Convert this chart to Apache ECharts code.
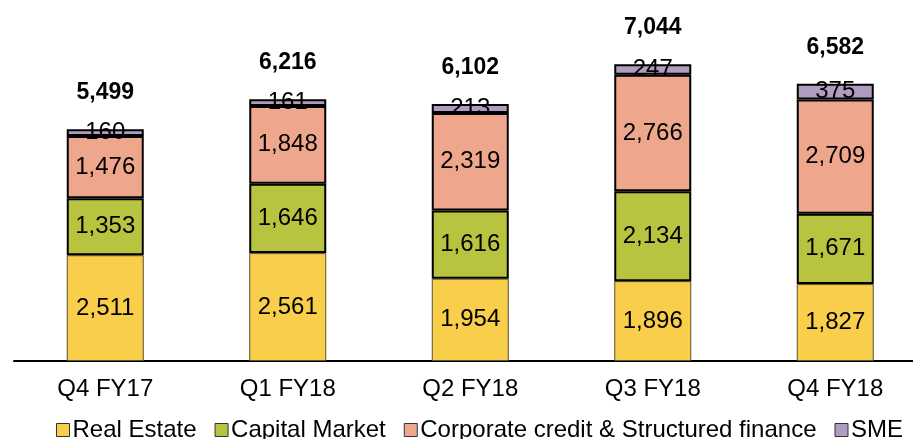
<!DOCTYPE html>
<html>
<head>
<meta charset="utf-8">
<script src="https://cdn.jsdelivr.net/npm/echarts@6/dist/echarts.min.js"></script>
<style>
  html, body { margin: 0; padding: 0; background: #fff; }
  #chart { width: 913px; height: 439px; }
</style>
</head>
<body>
<div id="chart"></div>
<script>
// Portfolio mix by quarter
const quarters = ['Q4 FY17', 'Q1 FY18', 'Q2 FY18', 'Q3 FY18', 'Q4 FY18'];
const realEstate = [2511, 2561, 1954, 1896, 1827];
const capitalMarket = [1353, 1646, 1616, 2134, 1671];
const corporateCredit = [1476, 1848, 2319, 2766, 2709];
const sme = [160, 161, 213, 247, 375];
const totals = [5499, 6216, 6102, 7044, 6582];

const font = "'Liberation Sans', Arial, sans-serif";
const fmt = v => v.toLocaleString('en-US');

const chart = echarts.init(document.getElementById('chart'));

function segment(name, data, color, border, bw) {
  return {
    name,
    type: 'bar',
    stack: 'mix',
    data,
    barWidth: 77,
    itemStyle: { color, borderColor: border, borderWidth: bw },
    label: {
      show: true,
      position: 'inside',
      color: '#000',
      fontFamily: font,
      fontSize: 24,
      formatter: p => fmt(p.value)
    }
  };
}

const option = {
  animation: false,
  backgroundColor: '#fff',
  // plot area runs a little past the right edge, like the source slide
  grid: { left: 14, width: 912.5, top: 24, bottom: 78, outerBoundsMode: 'none', containLabel: false },
  legend: {
    data: ['Real Estate', 'Capital Market', 'Corporate credit & Structured finance', 'SME'],
    left: 51,
    top: 413,
    icon: 'rect',
    itemWidth: 13,
    itemHeight: 13,
    itemGap: 18,
    itemStyle: { borderColor: '#333', borderWidth: 1 },
    textStyle: { color: '#000', fontFamily: font, fontSize: 24, padding: [0, 0, 0, -2] }
  },
  xAxis: {
    type: 'category',
    data: quarters,
    axisLine: { lineStyle: { color: '#000', width: 2 } },
    axisTick: { show: false },
    axisLabel: { color: '#000', fontFamily: font, fontSize: 24, margin: 16 }
  },
  yAxis: {
    type: 'value',
    min: 0,
    max: 8000,
    show: false,
    splitLine: { show: false }
  },
  series: [
    segment('Real Estate', realEstate, '#F8CE4B', '#5a5030', 1),
    segment('Capital Market', capitalMarket, '#B8C43F', '#000', 2),
    segment('Corporate credit & Structured finance', corporateCredit, '#EEA68D', '#000', 2),
    segment('SME', sme, '#B09CBF', '#000', 2),
    {
      name: 'Total',
      type: 'bar',
      data: totals,
      barWidth: 77,
      barGap: '-100%',
      z: 1,
      itemStyle: { color: 'transparent' },
      label: {
        show: true,
        position: 'top',
        distance: 25,
        color: '#000',
        fontFamily: font,
        fontSize: 23,
        fontWeight: 'bold',
        formatter: p => fmt(p.value)
      }
    }
  ]
};

chart.setOption(option);
</script>
</body>
</html>
